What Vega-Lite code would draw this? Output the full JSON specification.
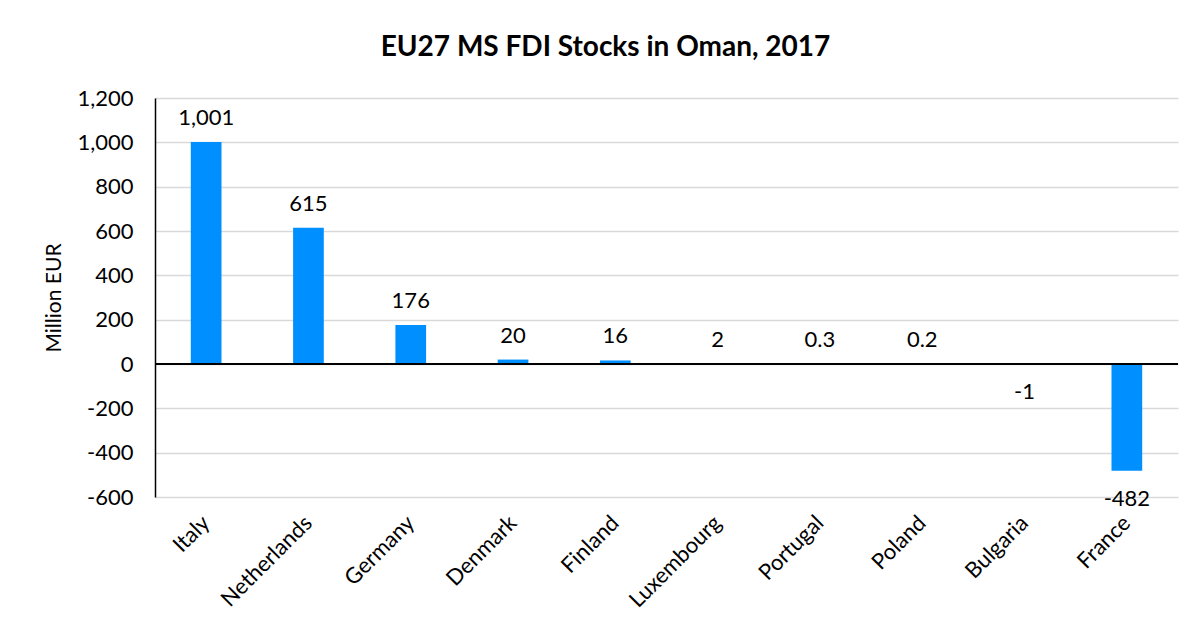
{
  "$schema": "https://vega.github.io/schema/vega-lite/v6.json",
  "autosize": "none",
  "width": 1023,
  "height": 399,
  "padding": {"left": 155, "top": 98, "right": 25, "bottom": 134},
  "background": "white",
  "config": {
    "font": "Lato",
    "view": {"stroke": null}
  },
  "title": {
    "text": "EU27 MS FDI Stocks in Oman, 2017",
    "font": "Lato",
    "fontSize": 28,
    "fontWeight": "bold",
    "color": "#000000",
    "anchor": "middle",
    "dx": -61,
    "offset": 25
  },
  "data": {
    "values": [
      {"country": "Italy", "value": 1001, "label": "1,001"},
      {"country": "Netherlands", "value": 615, "label": "615"},
      {"country": "Germany", "value": 176, "label": "176"},
      {"country": "Denmark", "value": 20, "label": "20"},
      {"country": "Finland", "value": 16, "label": "16"},
      {"country": "Luxembourg", "value": 2, "label": "2"},
      {"country": "Portugal", "value": 0.3, "label": "0.3"},
      {"country": "Poland", "value": 0.2, "label": "0.2"},
      {"country": "Bulgaria", "value": -1, "label": "-1"},
      {"country": "France", "value": -482, "label": "-482"}
    ]
  },
  "encoding": {
    "x": {
      "field": "country",
      "type": "nominal",
      "sort": null,
      "scale": {"paddingInner": 0.7, "paddingOuter": 0.35},
      "axis": {
        "title": null,
        "labelAngle": -45,
        "labelAlign": "right",
        "labelBaseline": "middle",
        "labelFontSize": 22,
        "labelColor": "#000000",
        "labelPadding": 22,
        "domain": false,
        "ticks": false
      }
    }
  },
  "layer": [
    {
      "mark": {"type": "bar", "color": "#008FFF"},
      "encoding": {
        "y": {
          "field": "value",
          "type": "quantitative",
          "scale": {"domain": [-600, 1200], "nice": false},
          "axis": {
            "title": "Million EUR",
            "titleFontSize": 21,
            "titleFontWeight": "normal",
            "titleColor": "#000000",
            "titlePadding": 12,
            "values": [-600, -400, -200, 0, 200, 400, 600, 800, 1000, 1200],
            "labelExpr": "datum.value < 0 ? '-' + format(-datum.value, ',') : format(datum.value, ',')",
            "labelFontSize": 22,
            "labelColor": "#000000",
            "labelPadding": 22,
            "ticks": false,
            "domain": true,
            "domainColor": "#000000",
            "domainWidth": 1.5,
            "grid": true,
            "gridColor": "#d9d9d9",
            "gridWidth": 1.5
          }
        }
      }
    },
    {
      "mark": {"type": "rule", "color": "#000000", "strokeWidth": 1.5},
      "encoding": {"y": {"datum": 0, "type": "quantitative"}, "x": {}}
    },
    {
      "transform": [{"filter": "datum.value >= 0"}],
      "mark": {"type": "text", "fontSize": 22, "color": "#000000", "baseline": "alphabetic", "dy": -17},
      "encoding": {
        "y": {"field": "value", "type": "quantitative"},
        "text": {"field": "label"}
      }
    },
    {
      "transform": [{"filter": "datum.value < 0"}],
      "mark": {"type": "text", "fontSize": 22, "color": "#000000", "baseline": "top", "dy": 18},
      "encoding": {
        "y": {"field": "value", "type": "quantitative"},
        "text": {"field": "label"}
      }
    }
  ]
}
